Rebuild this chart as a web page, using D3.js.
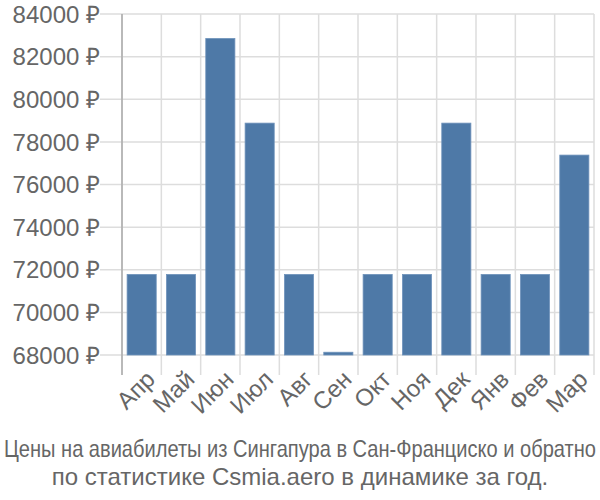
<!DOCTYPE html>
<html><head><meta charset="utf-8">
<script src="https://cdn.jsdelivr.net/npm/d3@7"></script>
<style>body{margin:0;background:#fff}</style>
</head><body>
<svg id="c" width="600" height="500"></svg>
<script>
const categories = ["Апр","Май","Июн","Июл","Авг","Сен","Окт","Ноя","Дек","Янв","Фев","Мар"];
const values = [71780,71780,82850,78880,71780,68130,71780,71780,78880,71780,71780,77380];
const yTicks = [68000,70000,72000,74000,76000,78000,80000,82000,84000];
const titleLines = ["Цены на авиабилеты из Сингапура в Сан-Франциско и обратно","по статистике Csmia.aero в динамике за год."];

(function(){
const svg = d3.select("#c");
const pL = 122, pR = 594, pT = 14, pB = 355;
const x = d3.scaleBand().domain(categories).range([pL, pR]).paddingInner(0.26).paddingOuter(0.13);
const xg = d3.scaleBand().domain(categories).range([pL, pR]);
const y = d3.scaleLinear().domain([68000, 84000]).range([pB, pT]);
const font = "'Liberation Sans', Arial, sans-serif";

// grid
svg.append("g").selectAll("line").data(yTicks).join("line")
  .attr("x1", pL - 22).attr("x2", pR).attr("y1", d => y(d)).attr("y2", d => y(d))
  .attr("stroke", "#ddd").attr("stroke-width", 1.5);
const vx = categories.map(c => xg(c)).concat([pR]);
svg.append("g").selectAll("line").data(vx).join("line")
  .attr("x1", d => d).attr("x2", d => d).attr("y1", pT).attr("y2", pB + 20)
  .attr("stroke", "#ddd").attr("stroke-width", 1.5);
svg.append("line").attr("x1", pL).attr("x2", pL).attr("y1", pT).attr("y2", pB + 20)
  .attr("stroke", "#aaa").attr("stroke-width", 1.5);

// bars
svg.append("g").selectAll("rect").data(values).join("rect")
  .attr("x", (d, i) => x(categories[i]))
  .attr("width", x.bandwidth())
  .attr("y", d => y(d))
  .attr("height", d => y(68000) - y(d))
  .attr("fill", "#4e79a7").attr("stroke", "#6f93bb").attr("stroke-width", 0.8);

// y labels
svg.append("g").selectAll("text").data(yTicks).join("text")
  .attr("x", 100).attr("y", d => y(d)).attr("dy", "0.36em")
  .attr("text-anchor", "end").attr("fill", "#666")
  .style("font-family", font).style("font-size", "24px")
  .text(d => d + " ₽");

// x labels
svg.append("g").selectAll("text").data(categories).join("text")
  .attr("transform", d => `translate(${xg(d) + xg.bandwidth()/2 + 3},${pB + 14}) rotate(-45)`)
  .attr("text-anchor", "end").attr("dy", "0.7em").attr("fill", "#666")
  .style("font-family", font).style("font-size", "24px")
  .text(d => d);

// title
const t = svg.append("g").selectAll("text").data(titleLines).join("text")
  .attr("x", 300).attr("y", (d, i) => 457 + i * 28)
  .attr("text-anchor", "middle").attr("fill", "#666")
  .style("font-family", font).style("font-size", "24px")
  .text(d => d);
t.filter((d, i) => i === 0).attr("textLength", 592).attr("lengthAdjust", "spacingAndGlyphs");
})();
</script>
</body></html>
